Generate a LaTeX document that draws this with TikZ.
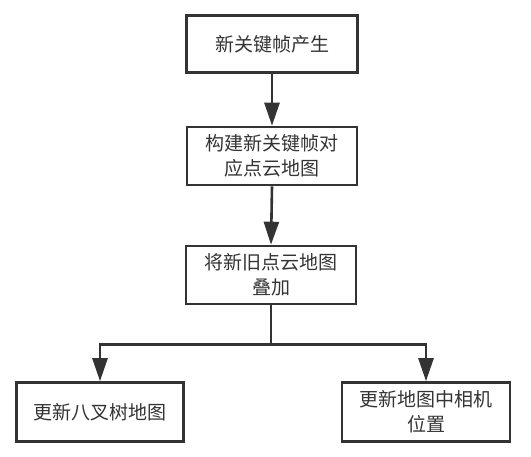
\documentclass[tikz,border=0pt]{standalone}
\usepackage{fontspec}
\setmainfont{Noto Sans CJK SC}
\usetikzlibrary{arrows.meta}

\begin{document}
\begin{tikzpicture}[x=1pt,y=-1pt,
    box/.style={draw=black!80, line width=2.6pt, fill=white, text=black!80,
        align=center, inner sep=0pt, font=\fontsize{19}{25}\selectfont},
    arr/.style={draw=black!80, line width=2.6pt,
        -{Triangle[length=23pt,width=15pt]}}]
    % 画布范围
    \useasboundingbox (0,0) rectangle (531,457);

    % 流程框
    \node[box, minimum width=171pt, minimum height=57pt] (gen)   at (272,44)  {新关键帧产生};
    \node[box, minimum width=170pt, minimum height=58pt] (build) at (272,156) {构建新关键帧对\\应点云地图};
    \node[box, minimum width=170pt, minimum height=58pt] (merge) at (271,275) {将新旧点云地图\\叠加};
    \node[box, minimum width=167pt, minimum height=59pt] (octo)  at (100,412) {更新八叉树地图};
    \node[box, minimum width=168pt, minimum height=59pt] (cam)   at (426,412) {更新地图中相机\\位置};

    % 主干箭头
    \draw[arr] (gen.south) -- (build.north);
    \draw[arr] (build.south) -- (merge.north);

    % 分支
    \draw[draw=black!80, line width=2.6pt] (merge.south) -- ++(0,39) coordinate (fork);
    \draw[arr] (fork) -| (octo.north);
    \draw[arr] (fork) -| (cam.north);
\end{tikzpicture}
\end{document}
